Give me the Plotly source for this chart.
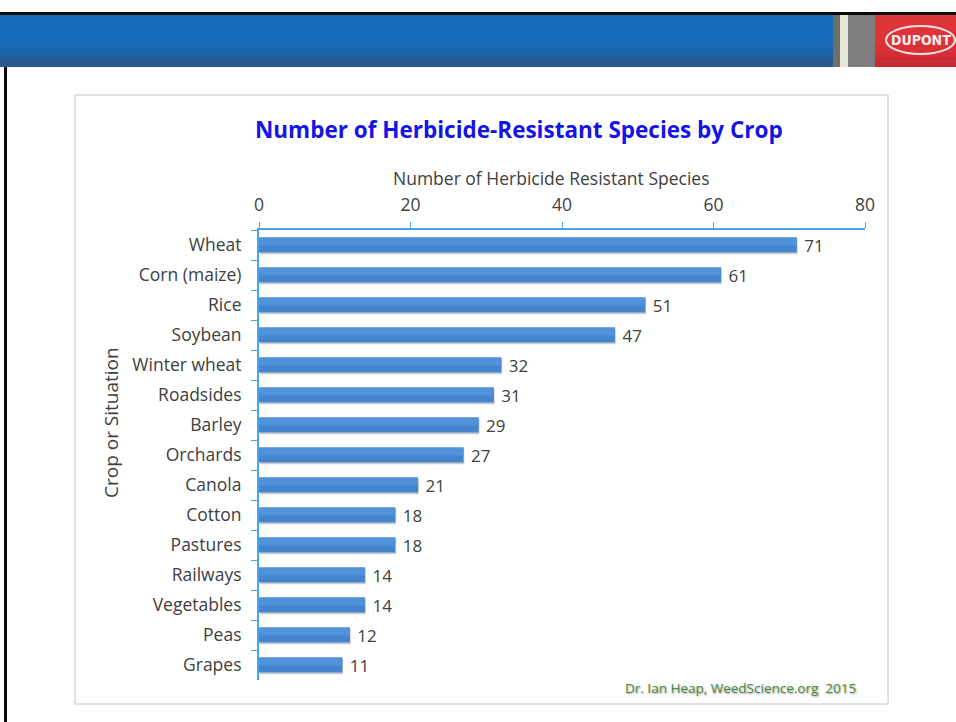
import plotly.graph_objects as go

categories = ["Wheat", "Corn (maize)", "Rice", "Soybean", "Winter wheat", "Roadsides",
              "Barley", "Orchards", "Canola", "Cotton", "Pastures", "Railways",
              "Vegetables", "Peas", "Grapes"]
species_counts = [71, 61, 51, 47, 32, 31, 29, 27, 21, 18, 18, 14, 14, 12, 11]
x_ticks = [0, 20, 40, 60, 80]

W, H = 956, 722
L, R, T, B = 259, 865, 230, 680
FONT = "Open Sans"


def px(x):
    return (x - L) / (R - L)


def py(y):
    return (B - y) / (B - T)


fig = go.Figure()

# soft shadow bars
fig.add_trace(go.Bar(
    y=categories, x=species_counts, base=0.1, orientation="h",
    width=0.5, offset=-0.19,
    marker=dict(color="rgba(110,110,110,0.35)", line=dict(width=0)),
    hoverinfo="skip", showlegend=False,
))
# main bars (lower tone)
fig.add_trace(go.Bar(
    y=categories, x=species_counts, orientation="h",
    width=0.5, offset=-0.25,
    marker=dict(color="#4585cf", line=dict(width=0)),
    text=species_counts, texttemplate=" %{x}", textposition="outside",
    constraintext="none",
    textfont=dict(family=FONT, size=17, color="#404040"),
    cliponaxis=False, showlegend=False,
))
# lighter upper tone (gradient look)
fig.add_trace(go.Bar(
    y=categories, x=species_counts, orientation="h",
    width=0.27, offset=-0.25,
    marker=dict(color="#5192da", line=dict(width=0)),
    hoverinfo="skip", showlegend=False,
))

shapes = []
blues = ["#156bb7", "#1769b3", "#1a66ad", "#1e63a5", "#225f9c", "#265b93", "#2a588b"]
ys = [15, 42, 48, 52, 56, 59, 62, 67]
for i, c in enumerate(blues):
    shapes.append(dict(type="rect", xref="paper", yref="paper", x0=px(0), x1=px(833),
                       y0=py(ys[i]), y1=py(ys[i + 1]), fillcolor=c, line_width=0, layer="below"))
shapes.append(dict(type="rect", xref="paper", yref="paper", x0=px(833), x1=px(840), y0=py(15), y1=py(67),
                   fillcolor="#6e6e6e", line_width=0, layer="below"))
shapes.append(dict(type="rect", xref="paper", yref="paper", x0=px(840), x1=px(848), y0=py(15), y1=py(67),
                   fillcolor="#e6e6d6", line_width=0, layer="below"))
shapes.append(dict(type="rect", xref="paper", yref="paper", x0=px(848), x1=px(875), y0=py(15), y1=py(67),
                   fillcolor="#7d7d7f", line_width=0, layer="below"))
reds = ["#dc3438", "#d83237", "#d23035", "#ca2d33", "#c22b31"]
rys = [15, 45, 52, 57, 62, 67]
for i, c in enumerate(reds):
    shapes.append(dict(type="rect", xref="paper", yref="paper", x0=px(875), x1=px(W),
                       y0=py(rys[i]), y1=py(rys[i + 1]), fillcolor=c, line_width=0, layer="below"))
shapes.append(dict(type="circle", xref="paper", yref="paper", x0=px(886), x1=px(955), y0=py(26), y1=py(54),
                   fillcolor="rgba(0,0,0,0)", line=dict(color="#f4e2e2", width=2)))
shapes.append(dict(type="rect", xref="paper", yref="paper", x0=px(0), x1=px(W), y0=py(12), y1=py(15),
                   fillcolor="#0a0a0a", line_width=0))
shapes.append(dict(type="rect", xref="paper", yref="paper", x0=px(4), x1=px(7), y0=py(67), y1=py(H),
                   fillcolor="#0a0a0a", line_width=0))
shapes.append(dict(type="rect", xref="paper", yref="paper", x0=px(75), x1=px(888), y0=py(95), y1=py(704),
                   fillcolor="rgba(0,0,0,0)", line=dict(color="#d9d9d9", width=1.5), layer="below"))

annotations = [
    dict(text="<b>Number of Herbicide-Resistant Species by Crop</b>", xref="paper", yref="paper",
         x=px(519), y=py(129), showarrow=False, xanchor="center", yanchor="middle",
         font=dict(family=FONT, size=22.5, color="#1414e6")),
    dict(text="Number of Herbicide Resistant Species", xref="paper", yref="paper",
         x=px(551), y=py(178), showarrow=False, xanchor="center", yanchor="middle",
         font=dict(family=FONT, size=17.5, color="#404040")),
    dict(text="Crop or Situation", xref="paper", yref="paper", textangle=-90,
         x=px(111), y=py(423), showarrow=False, xanchor="center", yanchor="middle",
         font=dict(family=FONT, size=19, color="#404040")),
    dict(text="Dr. Ian Heap, WeedScience.org  2015", xref="paper", yref="paper",
         x=px(740), y=py(688), showarrow=False, xanchor="center", yanchor="middle",
         font=dict(family=FONT, size=13.5, color="#4f8a3c", shadow="1px 1px 2px #9a9a9a")),
    dict(text="<b>DUPONT</b>", xref="paper", yref="paper",
         x=px(921), y=py(40), showarrow=False, xanchor="center", yanchor="middle",
         font=dict(family="Liberation Sans Narrow, DejaVu Sans Condensed", size=14, color="#f8ecec")),
]

fig.update_layout(
    width=W, height=H,
    margin=dict(l=L, r=W - R, t=T, b=H - B, pad=0),
    paper_bgcolor="white", plot_bgcolor="white",
    barmode="overlay",
    shapes=shapes, annotations=annotations,
    xaxis=dict(range=[0, 80], side="top", tickvals=x_ticks, ticks="outside", ticklen=6,
               tickcolor="#4aa3f0", showline=True, linecolor="#4aa3f0", linewidth=1.5,
               showgrid=False, zeroline=False, ticklabelstandoff=4,
               tickfont=dict(family=FONT, size=17.5, color="#404040")),
    yaxis=dict(categoryorder="array", categoryarray=categories, autorange="reversed",
               ticks="outside", ticklen=6, tickson="boundaries", tickcolor="#4aa3f0",
               showline=True, linecolor="#4aa3f0", linewidth=2, showgrid=False,
               ticklabelstandoff=12,
               tickfont=dict(family=FONT, size=17.5, color="#404040")),
    showlegend=False,
)

fig.write_html("out.html")
